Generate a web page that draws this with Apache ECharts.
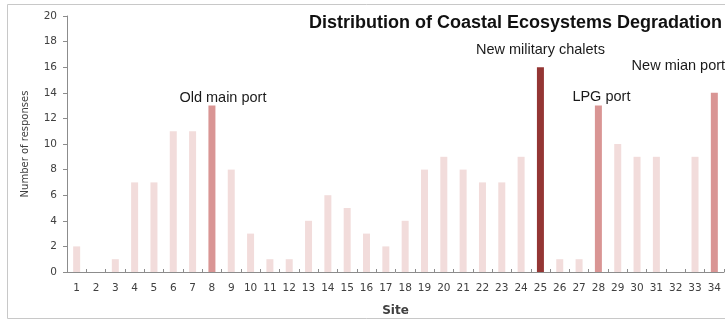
<!DOCTYPE html>
<html>
<head>
<meta charset="utf-8">
<script src="https://cdn.jsdelivr.net/npm/echarts@6/dist/echarts.min.js"></script>
<style>
  html, body { margin: 0; padding: 0; background: #fff; }
  #chart { width: 725px; height: 322px; }
</style>
</head>
<body>
<div id="chart"></div>
<script>
// Survey sites and number of responses per site
const sites = ['1','2','3','4','5','6','7','8','9','10','11','12','13','14','15','16','17',
               '18','19','20','21','22','23','24','25','26','27','28','29','30','31','32','33','34'];
const responses = [2, 0, 1, 7, 7, 11, 11, 13, 8, 3, 1, 1, 4, 6, 5, 3, 2,
                   4, 8, 9, 8, 7, 7, 9, 16, 1, 1, 13, 10, 9, 9, 0, 9, 14];

// Highlighted sites and their captions
const highlightSites = ['8', '25', '28', '34'];
const highlightNames = ['Old main port', 'New military chalets', 'LPG port', 'New mian port'];
const highlightLevel = ['mid', 'dark', 'mid', 'mid'];

const yTicks = [0, 2, 4, 6, 8, 10, 12, 14, 16, 18, 20];

const colors = { light: '#f2dcdb', mid: '#d99594', dark: '#943634' };
const captionOffsets = { '8': [11, 5], '25': [0, -5], '28': [3, 4], '34': [-36, -14] };

const barData = responses.map((v, i) => {
  const k = highlightSites.indexOf(sites[i]);
  if (k < 0) return { value: v, itemStyle: { color: colors.light } };
  return {
    value: v,
    itemStyle: { color: colors[highlightLevel[k]] },
    label: {
      show: true,
      position: 'top',
      formatter: highlightNames[k],
      offset: captionOffsets[sites[i]],
      fontFamily: 'Liberation Sans, Arial, sans-serif',
      fontSize: 14.5,
      color: '#1a1a1a'
    }
  };
});

const chart = echarts.init(document.getElementById('chart'), null, { renderer: 'canvas' });
chart.setOption({
  animation: false,
  backgroundColor: '#fff',
  title: {
    text: 'Distribution of Coastal Ecosystems Degradation',
    right: -2,
    top: 9,
    textStyle: {
      fontFamily: 'Liberation Sans, Arial, sans-serif',
      fontWeight: 'bold',
      fontSize: 18,
      color: '#111'
    }
  },
  graphic: [{
    type: 'rect',
    shape: { x: 7.5, y: 4.5, width: 730, height: 314 },
    style: { fill: 'none', stroke: '#c8c8c8', lineWidth: 1 },
    z: -1
  }],
  grid: { left: 67, right: 1, top: 16, bottom: 47, containLabel: false },
  xAxis: {
    type: 'category',
    data: sites,
    name: 'Site',
    nameLocation: 'middle',
    nameGap: 33,
    nameTextStyle: { fontFamily: 'DejaVu Sans, sans-serif', fontWeight: 'bold', fontSize: 12, color: '#404040' },
    axisLine: { lineStyle: { color: '#8c8c8c', width: 1 } },
    axisTick: { show: true, inside: true, length: 3, lineStyle: { color: '#8c8c8c' } },
    axisLabel: { interval: 0, margin: 11, fontFamily: 'DejaVu Sans, sans-serif', fontSize: 10.5, color: '#404040' }
  },
  yAxis: {
    type: 'value',
    min: 0,
    max: 20,
    interval: 2,
    name: 'Number of responses',
    nameLocation: 'middle',
    nameGap: 37,
    nameTextStyle: { fontFamily: 'DejaVu Sans, sans-serif', fontSize: 10, color: '#404040' },
    axisLine: { show: true, lineStyle: { color: '#8c8c8c', width: 1 } },
    axisTick: { show: true, length: 4, lineStyle: { color: '#8c8c8c' } },
    splitLine: { show: false },
    axisLabel: {
      margin: 10,
      fontFamily: 'DejaVu Sans, sans-serif',
      fontSize: 10.5,
      color: '#404040',
      formatter: v => (yTicks.indexOf(v) >= 0 ? String(v) : '')
    }
  },
  series: [{
    type: 'bar',
    data: barData,
    barWidth: 7,
    label: { show: false }
  }]
});
</script>
</body>
</html>
